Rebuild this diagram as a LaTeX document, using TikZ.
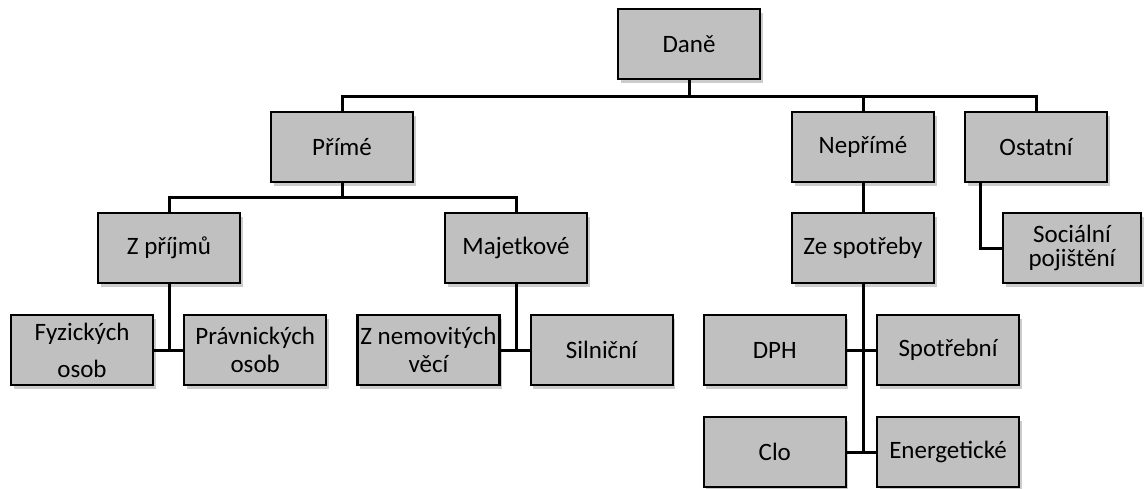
\documentclass[tikz,border=0pt]{standalone}
\usepackage{fontspec}
\setmainfont{Carlito}
\usetikzlibrary{positioning,calc,shadows}

\definecolor{boxgray}{RGB}{192,192,192}

\begin{document}
\begin{tikzpicture}[
    x=1pt, y=-1pt,
    box/.style={rectangle, draw, line width=2.2pt, fill=boxgray, minimum width=142pt, minimum height=70pt, inner sep=2pt, align=center, font=\fontsize{25}{28}\selectfont, drop shadow={shadow xshift=2.5pt, shadow yshift=-4pt, fill=black, opacity=0.2}},
    link/.style={line width=3pt}
]
    \useasboundingbox (0,0) rectangle (1144,488);

    % upper levels
    \node[box] (dane) at (689,44) {Daně};
    \node[box] (prime) at (342,147) {Přímé};
    \node[box] (neprime) at (863,147) {Nepřímé};
    \node[box] (ostatni) at (1036,147) {Ostatní};

    \node[box] (zprijmu) at (169,248) {Z příjmů};
    \node[box] (majetkove) at (516,248) {Majetkové};
    \node[box] (zespotreby) at (863,248) {Ze spotřeby};
    \node[box, minimum width=138pt] (socialni) at (1072,248) {Sociální\\[-4pt]pojištění};

    % bottom rows
    \node[box] (fyzicke) at (82,350) {Fyzických\\[9pt]osob};
    \node[box, right=29pt of fyzicke] (pravnicke) {Právnických\\osob};
    \node[box, right=29pt of pravnicke] (nemovite) {Z nemovitých\\věcí};
    \node[box, right=29pt of nemovite] (silnicni) {Silniční};
    \node[box, right=29pt of silnicni] (dph) {DPH};
    \node[box, right=29pt of dph] (spotrebni) {Spotřební};
    \node[box, below=30pt of dph] (clo) {Clo};
    \node[box, below=30pt of spotrebni] (energeticke) {Energetické};

    % connectors
    \coordinate (bus1) at ($(dane.south)+(0,16)$);
    \coordinate (bus2) at ($(prime.south)+(0,14)$);
    \draw[link] (dane.south) -- (bus1);
    \draw[link] (prime.north) |- (bus1) -| (ostatni.north);
    \draw[link] (neprime.north) -- (neprime.north |- bus1);
    \draw[link] (prime.south) -- (bus2);
    \draw[link] (zprijmu.north) |- (bus2) -| (majetkove.north);
    \draw[link] (neprime.south) -- (zespotreby.north);
    \draw[link] ([xshift=17pt]ostatni.south west) |- (socialni.west);

    \draw[link] (zprijmu.south) -- (zprijmu.south |- fyzicke.east);
    \draw[link] (fyzicke.east) -- (pravnicke.west);
    \draw[link] (majetkove.south) -- (majetkove.south |- nemovite.east);
    \draw[link] (nemovite.east) -- (silnicni.west);
    \draw[link] (zespotreby.south) -- (zespotreby.south |- clo.east);
    \draw[link] (dph.east) -- (spotrebni.west);
    \draw[link] (clo.east) -- (energeticke.west);
\end{tikzpicture}
\end{document}
